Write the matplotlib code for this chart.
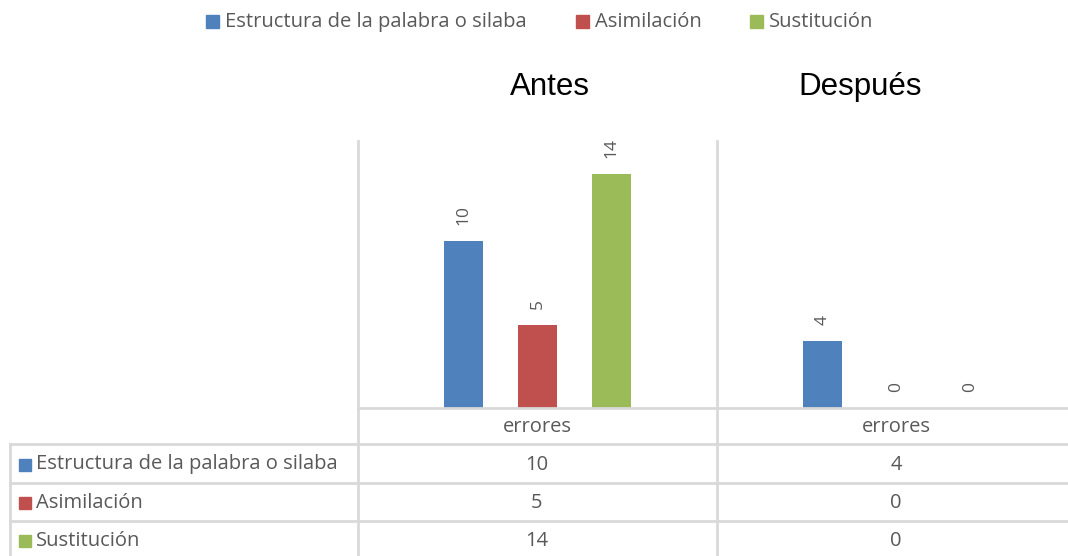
import matplotlib.pyplot as plt
import numpy as np

# Data ========================================================================
series = ['Estructura de la palabra o silaba', 'Asimilación', 'Sustitución']
colors = ['#4f81bd', '#c0504d', '#9bbb59']
antes = [10, 5, 14]
despues = [4, 0, 0]
panel_titles = ['Antes', 'Después']
cat_label = 'errores'

W, H = 1068, 556
fig = plt.figure(figsize=(W / 100, H / 100), dpi=100)

def fx(px):
    return px / W

def fy(py):
    return 1 - py / H

grid_col = '#d9d9d9'
txt_col = '#595959'
font = 'Open Sans'
fs = 14.5

# bar area (each category is 359 px wide, the second runs past the right edge)
ax = fig.add_axes([fx(358), fy(408), fx(718), fy(141) - fy(408)])
ax.set_xlim(-0.5, 1.5)
ax.set_ylim(0, 16)
ax.axis('off')

values = np.array([antes, despues])  # rows: panels, cols: series
offsets = [-0.206, 0, 0.206]
x = np.arange(len(panel_titles))
for i, name in enumerate(series):
    bars = ax.bar(x + offsets[i], values[:, i], width=0.109, color=colors[i], zorder=3)
    for b, v in zip(bars, values[:, i]):
        ax.annotate(str(v), (b.get_x() + b.get_width() / 2, v), xytext=(0, 16),
                    textcoords='offset pixels', rotation=90, ha='center', va='bottom',
                    color=txt_col, fontsize=12.5, family=font)

# lines of the plot frame and data table
def hline(y, x0, x1):
    fig.add_artist(plt.Line2D([fx(x0), fx(x1)], [fy(y), fy(y)], color=grid_col, lw=2))

def vline(xp, y0, y1):
    fig.add_artist(plt.Line2D([fx(xp), fx(xp)], [fy(y0), fy(y1)], color=grid_col, lw=2))

hline(408, 358, 1068)
for yy in [444, 483, 521]:
    hline(yy, 10, 1068)
vline(358, 141, 556)
vline(717, 141, 556)
vline(10, 444, 556)

# panel titles
fig.text(fx(550), fy(87), panel_titles[0], fontsize=22.5, family='Liberation Sans',
         ha='center', va='center', color='black')
fig.text(fx(860), fy(87), panel_titles[1], fontsize=22.5, family='Liberation Sans',
         ha='center', va='center', color='black')

# table
col_centers = [537, 896]
for c in col_centers:
    fig.text(fx(c), fy(427.5), cat_label, fontsize=fs, family=font,
             ha='center', va='center', color=txt_col)
row_centers = [464.5, 502.5, 540.5]
for r, name in enumerate(series):
    fig.patches.append(plt.Rectangle((fx(19), fy(row_centers[r] + 6)), fx(12), 12 / H,
                                     transform=fig.transFigure, color=colors[r], figure=fig))
    fig.text(fx(36), fy(row_centers[r]), name, fontsize=fs, family=font,
             ha='left', va='center', color=txt_col)
    for c, v in zip(col_centers, values[:, r]):
        fig.text(fx(c), fy(row_centers[r]), str(v), fontsize=fs, family=font,
                 ha='center', va='center', color=txt_col)

# legend
leg_x = [206, 576, 750]
for i, name in enumerate(series):
    fig.patches.append(plt.Rectangle((fx(leg_x[i]), fy(28)), fx(13), 13 / H,
                                     transform=fig.transFigure, color=colors[i], figure=fig))
    fig.text(fx(leg_x[i] + 19), fy(22), name, fontsize=fs, family=font,
             ha='left', va='center', color=txt_col)

fig.savefig('out.png', dpi=100)
